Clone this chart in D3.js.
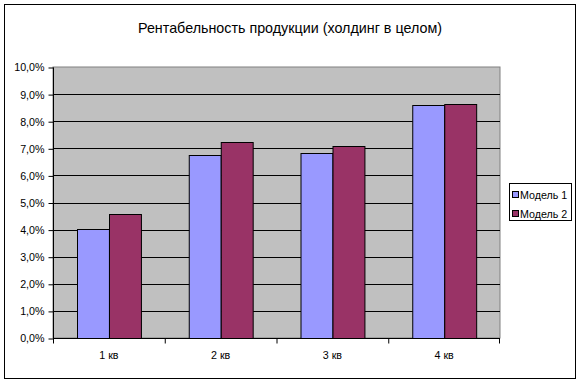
<!DOCTYPE html>
<html>
<head>
<meta charset="utf-8">
<script src="https://cdn.jsdelivr.net/npm/d3@7"></script>
<style>
  body { margin: 0; background: #fff; }
  svg { display: block; font-family: "Liberation Sans", Arial, sans-serif; }
</style>
</head>
<body>
<div id="chart"></div>
<script>
// chart data
const categories = ["1 кв", "2 кв", "3 кв", "4 кв"];
const seriesNames = ["Модель 1", "Модель 2"];
const model1 = [4.03, 6.76, 6.84, 8.58];
const model2 = [4.58, 7.25, 7.10, 8.62];
const yTicks = [0, 1, 2, 3, 4, 5, 6, 7, 8, 9, 10];
const colors = ["#9999FF", "#993366"];

const WIDTH = 580, HEIGHT = 383;
const PLOT = {left: 53, right: 500, top: 67, bottom: 338};

const svg = d3.select("#chart").append("svg")
    .attr("width", WIDTH)
    .attr("height", HEIGHT);

// outer chart border
svg.append("rect")
    .attr("x", 4.5).attr("y", 4.5)
    .attr("width", 571).attr("height", 374)
    .attr("fill", "#fff")
    .attr("stroke", "#000");

// title
svg.append("text")
    .attr("x", 290).attr("y", 33)
    .attr("text-anchor", "middle")
    .attr("font-size", "14.5px")
    .attr("textLength", 304)
    .attr("lengthAdjust", "spacingAndGlyphs")
    .text("Рентабельность продукции (холдинг в целом)");

// scales
const x0 = d3.scaleBand()
    .domain(categories)
    .range([PLOT.left, PLOT.right])
    .padding(0);

const x1 = d3.scaleBand()
    .domain(seriesNames)
    .range([0, x0.bandwidth()])
    .paddingInner(0)
    .paddingOuter(0.75);

const y = d3.scaleLinear()
    .domain([0, 10])
    .range([PLOT.bottom, PLOT.top]);

// plot background
svg.append("rect")
    .attr("x", PLOT.left).attr("y", PLOT.top)
    .attr("width", PLOT.right - PLOT.left)
    .attr("height", PLOT.bottom - PLOT.top)
    .attr("fill", "#C0C0C0")
    .attr("stroke", "#808080");

// gridlines
svg.append("g")
    .selectAll("line")
    .data(yTicks.filter(d => d > 0 && d < 10))
    .enter()
    .append("line")
        .attr("x1", PLOT.left).attr("x2", PLOT.right)
        .attr("y1", d => Math.round(y(d)) + 0.5)
        .attr("y2", d => Math.round(y(d)) + 0.5)
        .attr("stroke", "#000");

// bars
const rows = categories.map((c, i) => ({cat: c, vals: [model1[i], model2[i]]}));

svg.append("g")
    .selectAll("g")
    .data(rows)
    .enter()
    .append("g")
        .attr("transform", d => "translate(" + x0(d.cat) + ",0)")
    .selectAll("rect")
    .data(d => d.vals.map((v, j) => ({name: seriesNames[j], v: v, j: j})))
    .enter()
    .append("rect")
        .attr("x", d => Math.round(x1(d.name)) + 0.5)
        .attr("y", d => Math.round(y(d.v)) + 0.5)
        .attr("width", x1.bandwidth())
        .attr("height", d => Math.round(y(0)) - Math.round(y(d.v)))
        .attr("fill", d => colors[d.j])
        .attr("stroke", "#000");

// y axis
const yAxis = svg.append("g")
    .attr("transform", "translate(" + (PLOT.left + 0.5) + ",0.5)")
    .call(d3.axisLeft(y)
        .tickValues(yTicks)
        .tickSize(5)
        .tickPadding(4)
        .tickFormat(d => d3.format(".1f")(d).replace(".", ",") + "%"));

// x axis
const xAxis = svg.append("g")
    .attr("transform", "translate(0," + (PLOT.bottom + 0.5) + ")")
    .call(d3.axisBottom(x0).tickSize(0).tickPadding(13));

xAxis.selectAll("g.tick").append("line")
    .attr("x1", d => -x0.bandwidth() / 2 + 0.5)
    .attr("x2", d => -x0.bandwidth() / 2 + 0.5)
    .attr("y1", 0).attr("y2", 5)
    .attr("stroke", "#000");
xAxis.append("line")
    .attr("x1", PLOT.right - 0.5).attr("x2", PLOT.right - 0.5)
    .attr("y1", 0).attr("y2", 5)
    .attr("stroke", "#000");

[yAxis, xAxis].forEach(a => {
    a.selectAll("text")
        .attr("font-size", "10.7px")
        .attr("font-family", "'Liberation Sans', Arial, sans-serif")
        .attr("fill", "#000");
    a.selectAll("path, line").attr("stroke", "#000");
    a.select(".domain").attr("d", a === yAxis
        ? "M0," + PLOT.bottom + "V" + PLOT.top
        : "M" + PLOT.left + ",0H" + PLOT.right);
});

// legend
const legend = svg.append("g");
legend.append("rect")
    .attr("x", 509.5).attr("y", 183.5)
    .attr("width", 62).attr("height", 37)
    .attr("fill", "#fff")
    .attr("stroke", "#000");

const items = legend.selectAll("g.item")
    .data(seriesNames)
    .enter()
    .append("g")
        .attr("class", "item")
        .attr("transform", (d, i) => "translate(512," + (195 + i * 19) + ")");

items.append("rect")
    .attr("x", 0.5).attr("y", -3.5)
    .attr("width", 6).attr("height", 6)
    .attr("fill", (d, i) => colors[i])
    .attr("stroke", "#000");

items.append("text")
    .attr("x", 8).attr("y", 4)
    .attr("font-size", "10.7px")
    .text(d => d);
</script>
</body>
</html>
